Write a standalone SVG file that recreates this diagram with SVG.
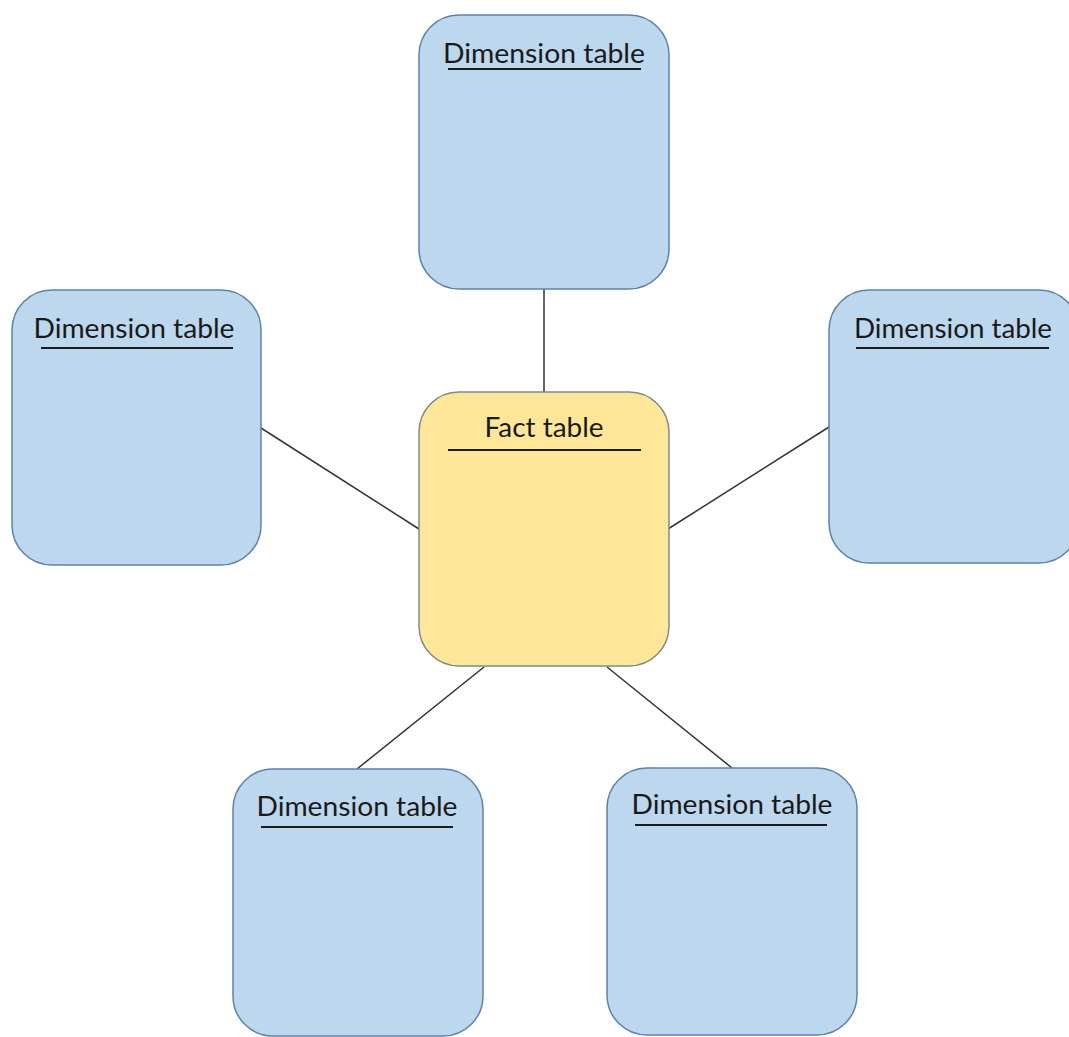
<svg xmlns="http://www.w3.org/2000/svg" width="1069" height="1037" viewBox="0 0 1069 1037">
  <style>
    .dim rect { fill: #BDD7EE; stroke: #5E82AA; stroke-width: 1.5; }
    .fact rect { fill: #FFE699; stroke: #7E8C86; stroke-width: 1.5; }
    .label { font-family: Lato, "Open Sans", sans-serif; font-size: 27px; fill: #1a1a1a; text-anchor: middle; }
    .rule { stroke: #1a1a1a; stroke-width: 2; }
    .links line { stroke: #333333; stroke-width: 1.5; }
  </style>
  <rect width="1069" height="1037" fill="#ffffff"/>

  <g class="links">
    <line x1="544" y1="289" x2="544" y2="392"/>
    <line x1="261" y1="428" x2="419" y2="529"/>
    <line x1="668" y1="529" x2="829" y2="427"/>
    <line x1="484" y1="667" x2="357" y2="769"/>
    <line x1="607" y1="667" x2="732" y2="768"/>
  </g>

  <g id="dim-top" class="dim">
    <rect x="419" y="15" width="250" height="274" rx="40" ry="40"/>
    <text class="label" x="544" y="63" textLength="202" lengthAdjust="spacingAndGlyphs">Dimension table</text>
    <line class="rule" x1="448" y1="69" x2="641" y2="69"/>
  </g>

  <g id="dim-left" class="dim">
    <rect x="12" y="290" width="249" height="275" rx="40" ry="40"/>
    <text class="label" x="134" y="338" textLength="201" lengthAdjust="spacingAndGlyphs">Dimension table</text>
    <line class="rule" x1="41" y1="348" x2="233" y2="348"/>
  </g>

  <g id="dim-right" class="dim">
    <rect x="829" y="290" width="250" height="273" rx="40" ry="40"/>
    <text class="label" x="953" y="338" textLength="198" lengthAdjust="spacingAndGlyphs">Dimension table</text>
    <line class="rule" x1="856" y1="348" x2="1049" y2="348"/>
  </g>

  <g id="fact" class="fact">
    <rect x="419" y="392" width="250" height="274" rx="40" ry="40"/>
    <text class="label" x="544" y="437" textLength="119" lengthAdjust="spacingAndGlyphs">Fact table</text>
    <line class="rule" x1="448" y1="450" x2="641" y2="450"/>
  </g>

  <g id="dim-bottom-left" class="dim">
    <rect x="233" y="769" width="250" height="267" rx="40" ry="40"/>
    <text class="label" x="357" y="816" textLength="201" lengthAdjust="spacingAndGlyphs">Dimension table</text>
    <line class="rule" x1="261" y1="827" x2="453" y2="827"/>
  </g>

  <g id="dim-bottom-right" class="dim">
    <rect x="607" y="768" width="250" height="267" rx="40" ry="40"/>
    <text class="label" x="732" y="814" textLength="201" lengthAdjust="spacingAndGlyphs">Dimension table</text>
    <line class="rule" x1="635" y1="825" x2="827" y2="825"/>
  </g>
</svg>
